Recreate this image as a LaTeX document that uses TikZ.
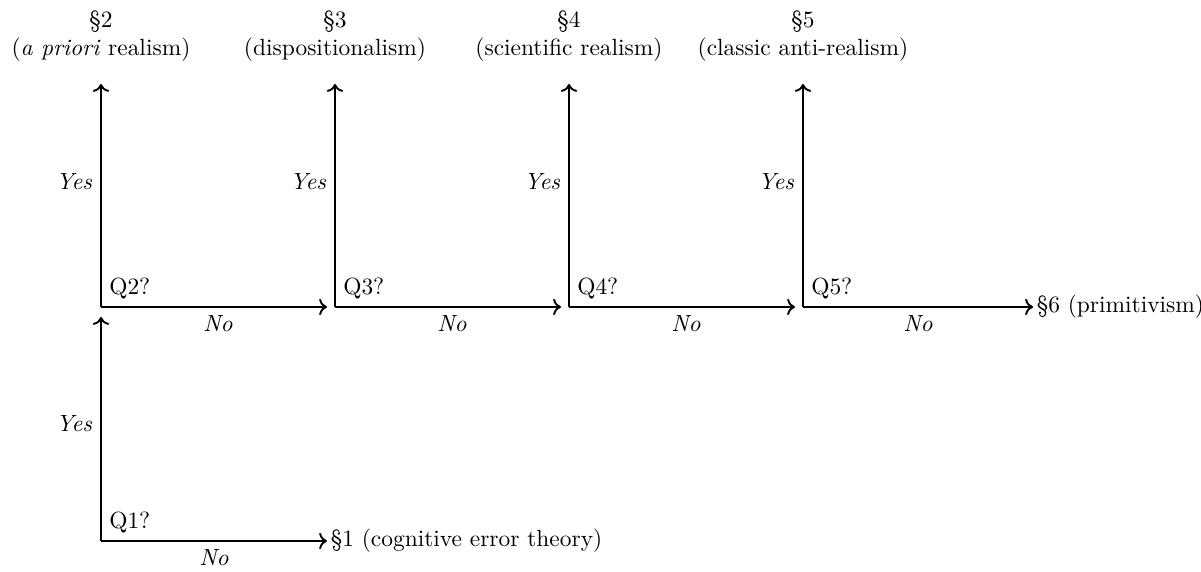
\documentclass[tikz,border=0pt]{standalone}
\usepackage{tikz}
\usetikzlibrary{arrows.meta,positioning,calc}

\begin{document}
\begin{tikzpicture}[font=\normalsize,
    edge/.style={->,thick},
    qtag/.style={anchor=south west},
    sect/.style={align=center,anchor=south},
    exitsect/.style={anchor=west,inner sep=1.5pt}]
  \useasboundingbox (-1.515,-0.465) rectangle (16.5,8.115);
  % decision points
  \coordinate (q1) at (0,0);
  \coordinate (q2) at (0,3.51);
  \coordinate (q3) at (3.51,3.51);
  \coordinate (q4) at (7.02,3.51);
  \coordinate (q5) at (10.53,3.51);
  \node[qtag] (t1) at (q1) {Q1?};
  \node[qtag] (t2) at (q2) {Q2?};
  \node[qtag] (t3) at (q3) {Q3?};
  \node[qtag] (t4) at (q4) {Q4?};
  \node[qtag] (t5) at (q5) {Q5?};
  % outcomes
  \node[sect] (s2) at (0,7.065) {\S2\\(\textit{a priori} realism)};
  \node[sect] (s3) at (3.51,7.065) {\S3\\(dispositionalism)};
  \node[sect] (s4) at (7.02,7.065) {\S4\\(scientific realism)};
  \node[sect] (s5) at (10.53,7.065) {\S5\\(classic anti-realism)};
  \node[exitsect] (s1) at (3.39,0) {\S1 (cognitive error theory)};
  \node[exitsect] (s6) at (13.98,3.51) {\S6 (primitivism)};
  % yes branches
  \draw[edge,shorten >=0.15cm] (q1) -- node[left]{\textit{Yes}} (q2);
  \draw[edge,shorten >=0.21cm] (q2) -- node[left,pos=0.53]{\textit{Yes}} (s2);
  \draw[edge,shorten >=0.21cm] (q3) -- node[left,pos=0.53]{\textit{Yes}} (s3);
  \draw[edge,shorten >=0.21cm] (q4) -- node[left,pos=0.53]{\textit{Yes}} (s4);
  \draw[edge,shorten >=0.21cm] (q5) -- node[left,pos=0.53]{\textit{Yes}} (s5);
  % no branches
  \draw[edge] (q1) -- node[below]{\textit{No}} (s1);
  \draw[edge,shorten >=0.12cm] (q2) -- node[below]{\textit{No}} (q3);
  \draw[edge,shorten >=0.12cm] (q3) -- node[below]{\textit{No}} (q4);
  \draw[edge,shorten >=0.12cm] (q4) -- node[below]{\textit{No}} (q5);
  \draw[edge] (q5) -- node[below]{\textit{No}} (s6);
\end{tikzpicture}
\end{document}
